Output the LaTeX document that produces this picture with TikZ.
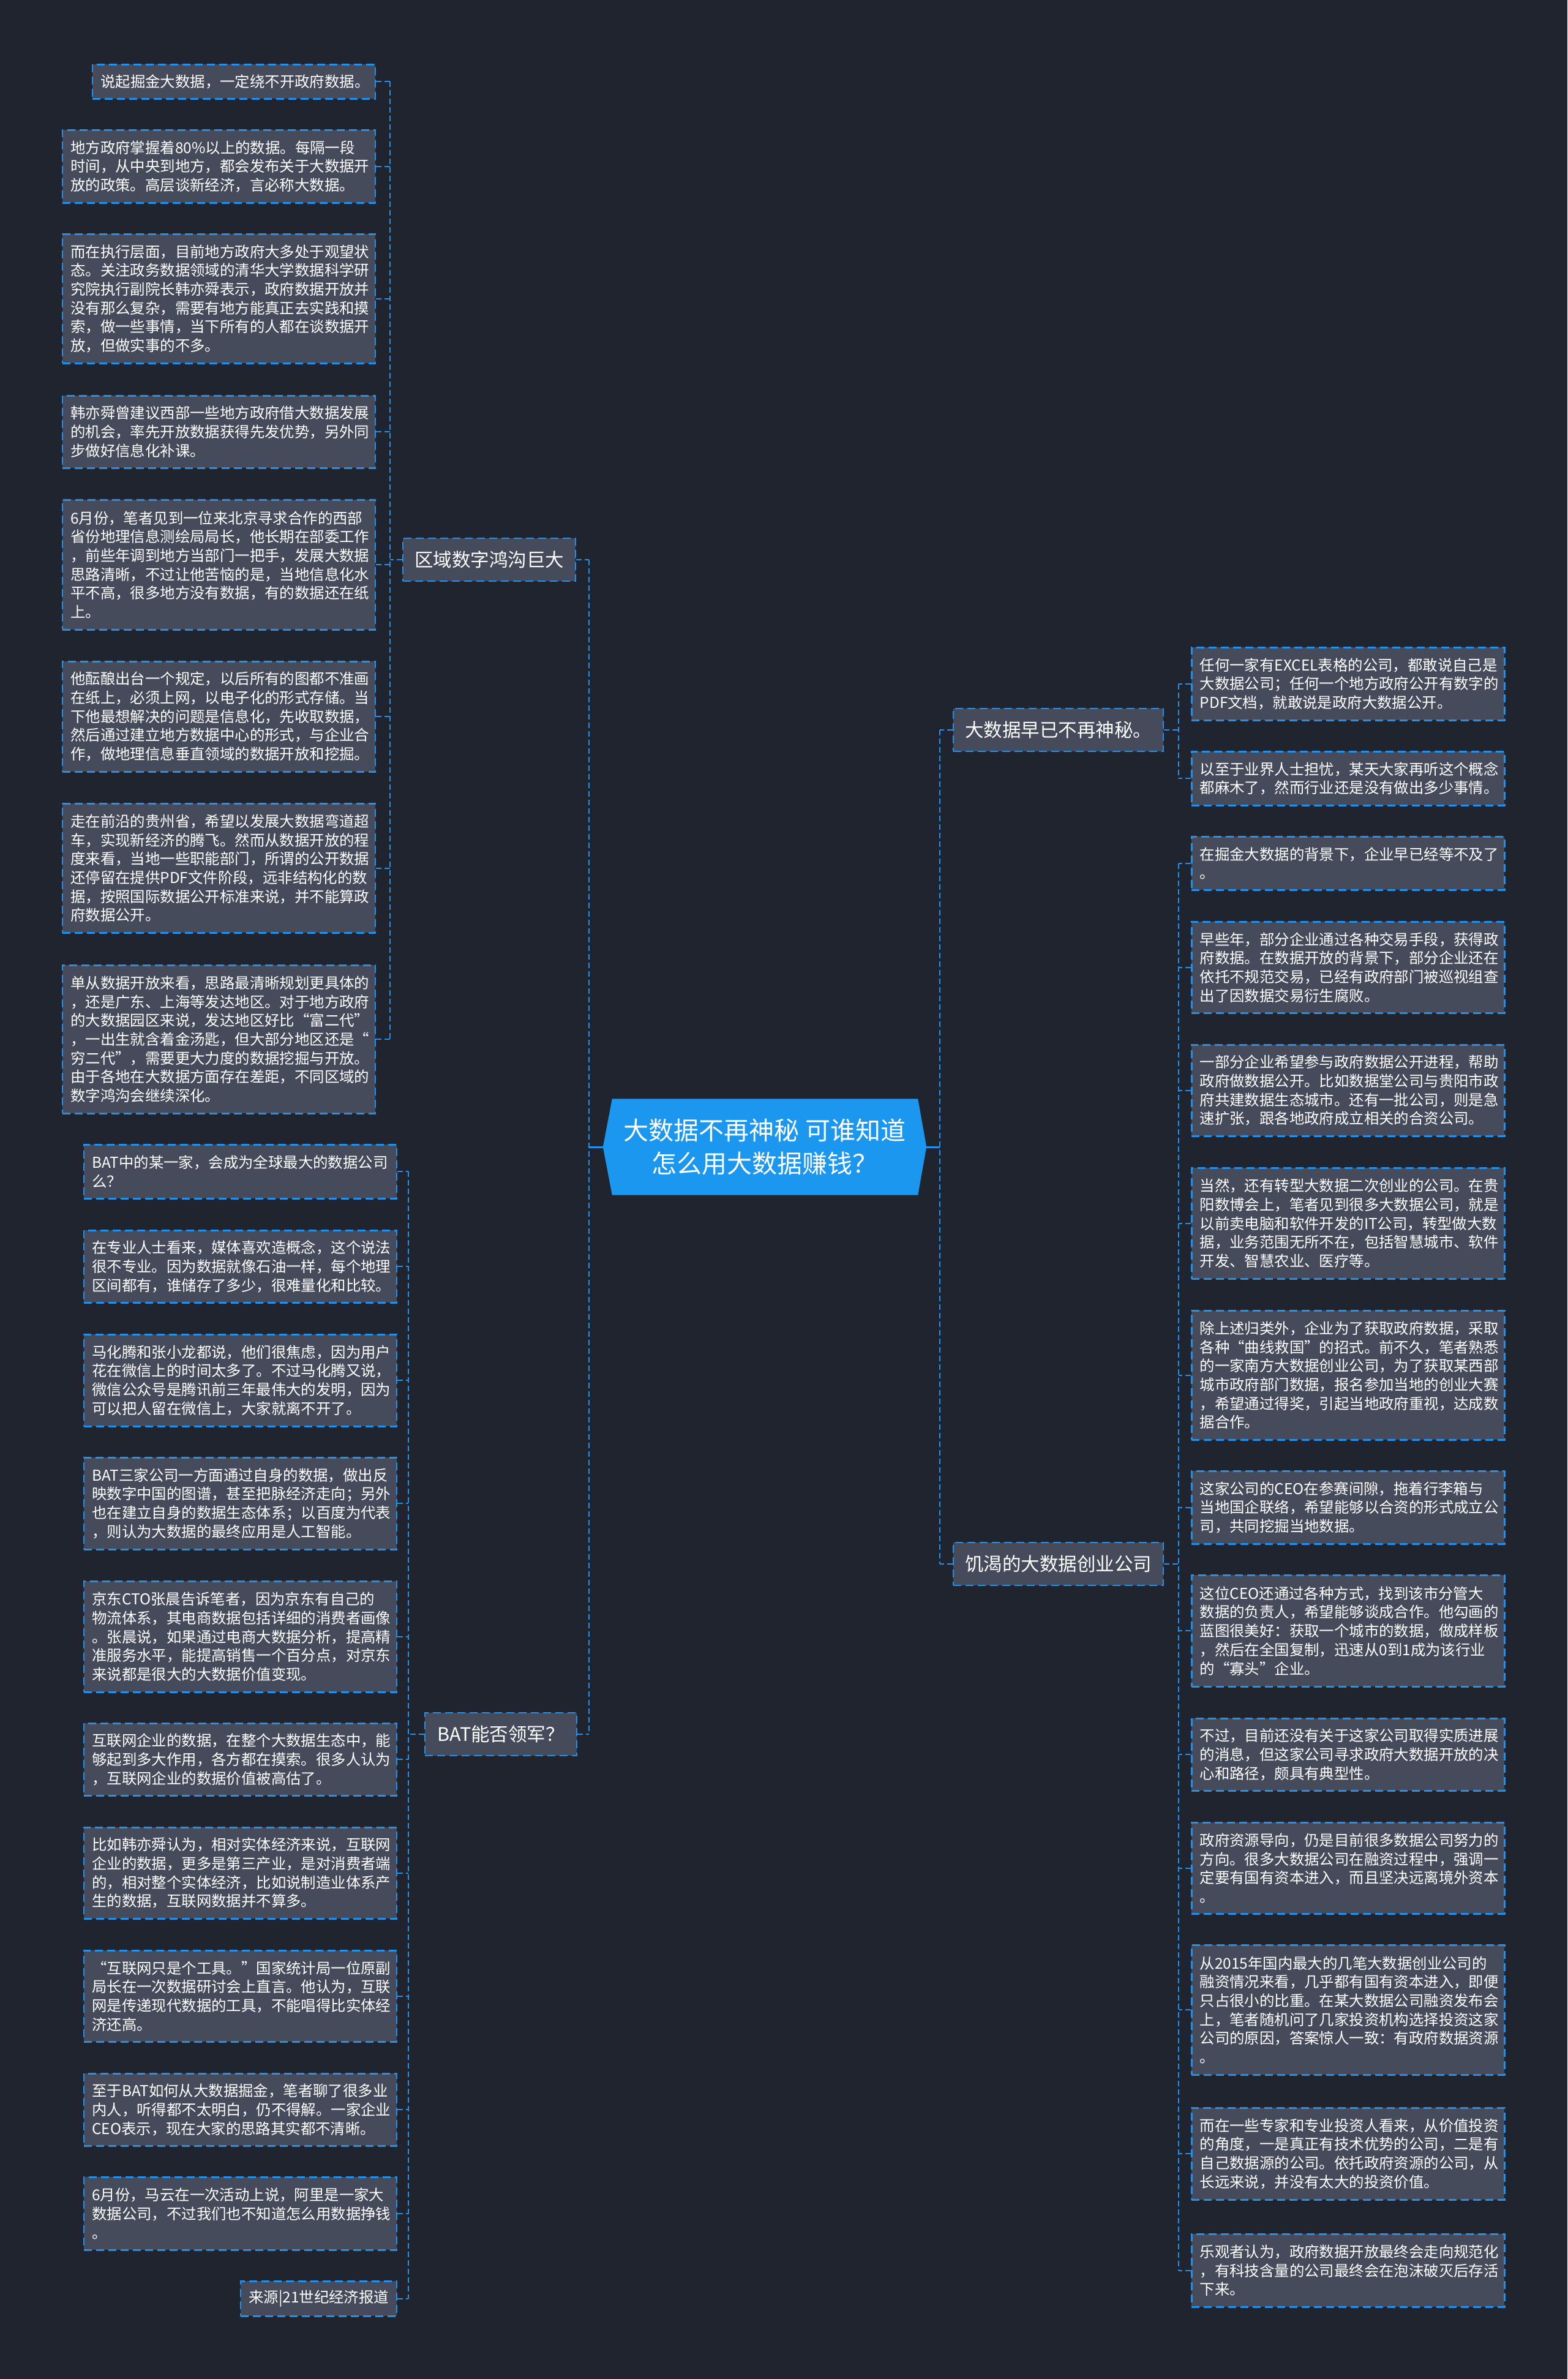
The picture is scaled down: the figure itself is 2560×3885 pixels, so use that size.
\documentclass[tikz,border=0pt]{standalone}
\usepackage{fontspec}
\setmainfont{Noto Sans CJK SC}
\usetikzlibrary{backgrounds}
\definecolor{bgc}{HTML}{20242F}
\definecolor{boxc}{HTML}{454B5A}
\definecolor{linec}{HTML}{2191EB}
\definecolor{rootc}{HTML}{1B97F0}
\newcommand{\lffont}{\fontsize{24.4pt}{30.7pt}\selectfont}
\newcommand{\brfont}{\fontsize{30.5pt}{36pt}\selectfont}
\newcommand{\rtfont}{\fontsize{41pt}{54pt}\selectfont}
\tikzset{
 leaf/.style={draw=linec, line width=2.5pt, dash pattern=on 13pt off 7pt, fill=boxc, text=white, font=\lffont, align=left, text width=484pt, inner xsep=13.5pt, inner ysep=0pt},
 lleaf/.style={leaf, anchor=north east},
 rleaf/.style={leaf, anchor=north west},
 branch/.style={draw=linec, line width=2.5pt, dash pattern=on 13pt off 7pt, fill=boxc, text=white, font=\brfont, align=center, minimum height=70pt, inner sep=0pt},
 rootnode/.style={text=white, font=\rtfont, align=center, minimum width=528pt, minimum height=157pt, inner sep=0pt},
 conn/.style={draw=linec, line width=2pt, dash pattern=on 9pt off 5pt},
 rootlink/.style={draw=linec, line width=3pt},
}
\begin{document}
\begin{tikzpicture}[x=1pt, y=-1pt]
\useasboundingbox (0,0) rectangle (2560,3885);

% root
\node[rootnode] (root) at (1249,1873) {大数据不再神秘 可谁知道\\怎么用大数据赚钱？};

% branches
\node[branch, minimum width=282pt] (bA) at (799,914) {区域数字鸿沟巨大};
\node[branch, minimum width=248pt] (bB) at (818,2832) {BAT能否领军？};
\node[branch, minimum width=343pt] (bC) at (1728.5,1192) {大数据早已不再神秘。};
\node[branch, minimum width=343pt] (bD) at (1728.5,2554) {饥渴的大数据创业公司};

% left top leaves
\node[lleaf, minimum height=56pt, text width=435pt] (L1) at (614,104) {说起掘金大数据，一定绕不开政府数据。};
\node[lleaf, minimum height=119pt] (L2) at (614,211) {地方政府掌握着80\%以上的数据。每隔一段\\时间，从中央到地方，都会发布关于大数据开\\放的政策。高层谈新经济，言必称大数据。};
\node[lleaf, minimum height=211pt] (L3) at (614,381) {而在执行层面，目前地方政府大多处于观望状\\态。关注政务数据领域的清华大学数据科学研\\究院执行副院长韩亦舜表示，政府数据开放并\\没有那么复杂，需要有地方能真正去实践和摸\\索，做一些事情，当下所有的人都在谈数据开\\放，但做实事的不多。};
\node[lleaf, minimum height=118pt] (L4) at (614,645) {韩亦舜曾建议西部一些地方政府借大数据发展\\的机会，率先开放数据获得先发优势，另外同\\步做好信息化补课。};
\node[lleaf, minimum height=212pt] (L5) at (614,815) {6月份，笔者见到一位来北京寻求合作的西部\\省份地理信息测绘局局长，他长期在部委工作\\，前些年调到地方当部门一把手，发展大数据\\思路清晰，不过让他苦恼的是，当地信息化水\\平不高，很多地方没有数据，有的数据还在纸\\上。};
\node[lleaf, minimum height=180pt] (L6) at (614,1079) {他酝酿出台一个规定，以后所有的图都不准画\\在纸上，必须上网，以电子化的形式存储。当\\下他最想解决的问题是信息化，先收取数据，\\然后通过建立地方数据中心的形式，与企业合\\作，做地理信息垂直领域的数据开放和挖掘。};
\node[lleaf, minimum height=211pt] (L7) at (614,1311) {走在前沿的贵州省，希望以发展大数据弯道超\\车，实现新经济的腾飞。然而从数据开放的程\\度来看，当地一些职能部门，所谓的公开数据\\还停留在提供PDF文件阶段，远非结构化的数\\据，按照国际数据公开标准来说，并不能算政\\府数据公开。};
\node[lleaf, minimum height=242pt] (L8) at (614,1575) {单从数据开放来看，思路最清晰规划更具体的\\，还是广东、上海等发达地区。对于地方政府\\的大数据园区来说，发达地区好比“富二代”\\，一出生就含着金汤匙，但大部分地区还是“\\穷二代”，需要更大力度的数据挖掘与开放。\\由于各地在大数据方面存在差距，不同区域的\\数字鸿沟会继续深化。};

% left bottom leaves
\node[lleaf, minimum height=88pt] (B1) at (649,1868) {BAT中的某一家，会成为全球最大的数据公司\\么？};
\node[lleaf, minimum height=118pt] (B2) at (649,2008) {在专业人士看来，媒体喜欢造概念，这个说法\\很不专业。因为数据就像石油一样，每个地理\\区间都有，谁储存了多少，很难量化和比较。};
\node[lleaf, minimum height=150pt] (B3) at (649,2178) {马化腾和张小龙都说，他们很焦虑，因为用户\\花在微信上的时间太多了。不过马化腾又说，\\微信公众号是腾讯前三年最伟大的发明，因为\\可以把人留在微信上，大家就离不开了。};
\node[lleaf, minimum height=150pt] (B4) at (649,2379) {BAT三家公司一方面通过自身的数据，做出反\\映数字中国的图谱，甚至把脉经济走向；另外\\也在建立自身的数据生态体系；以百度为代表\\，则认为大数据的最终应用是人工智能。};
\node[lleaf, minimum height=181pt] (B5) at (649,2581) {京东CTO张晨告诉笔者，因为京东有自己的\\物流体系，其电商数据包括详细的消费者画像\\。张晨说，如果通过电商大数据分析，提高精\\准服务水平，能提高销售一个百分点，对京东\\来说都是很大的大数据价值变现。};
\node[lleaf, minimum height=118pt] (B6) at (649,2813) {互联网企业的数据，在整个大数据生态中，能\\够起到多大作用，各方都在摸索。很多人认为\\，互联网企业的数据价值被高估了。};
\node[lleaf, minimum height=149pt] (B7) at (649,2983) {比如韩亦舜认为，相对实体经济来说，互联网\\企业的数据，更多是第三产业，是对消费者端\\的，相对整个实体经济，比如说制造业体系产\\生的数据，互联网数据并不算多。};
\node[lleaf, minimum height=149pt] (B8) at (649,3184) {“互联网只是个工具。”国家统计局一位原副\\局长在一次数据研讨会上直言。他认为，互联\\网是传递现代数据的工具，不能唱得比实体经\\济还高。};
\node[lleaf, minimum height=118pt] (B9) at (649,3385) {至于BAT如何从大数据掘金，笔者聊了很多业\\内人，听得都不太明白，仍不得解。一家企业\\CEO表示，现在大家的思路其实都不清晰。};
\node[lleaf, minimum height=119pt] (B10) at (649,3554) {6月份，马云在一次活动上说，阿里是一家大\\数据公司，不过我们也不知道怎么用数据挣钱\\。};
\node[lleaf, minimum height=57pt, text width=228pt] (B11) at (649,3724) {来源|21世纪经济报道};

% right leaves
\node[rleaf, minimum height=119pt] (R1) at (1945,1056) {任何一家有EXCEL表格的公司，都敢说自己是\\大数据公司；任何一个地方政府公开有数字的\\PDF文档，就敢说是政府大数据公开。};
\node[rleaf, minimum height=88pt] (R2) at (1945,1226) {以至于业界人士担忧，某天大家再听这个概念\\都麻木了，然而行业还是没有做出多少事情。};
\node[rleaf, minimum height=87pt] (R3) at (1945,1365) {在掘金大数据的背景下，企业早已经等不及了\\。};
\node[rleaf, minimum height=149pt] (R4) at (1945,1504) {早些年，部分企业通过各种交易手段，获得政\\府数据。在数据开放的背景下，部分企业还在\\依托不规范交易，已经有政府部门被巡视组查\\出了因数据交易衍生腐败。};
\node[rleaf, minimum height=149pt] (R5) at (1945,1705) {一部分企业希望参与政府数据公开进程，帮助\\政府做数据公开。比如数据堂公司与贵阳市政\\府共建数据生态城市。还有一批公司，则是急\\速扩张，跟各地政府成立相关的合资公司。};
\node[rleaf, minimum height=181pt] (R6) at (1945,1906) {当然，还有转型大数据二次创业的公司。在贵\\阳数博会上，笔者见到很多大数据公司，就是\\以前卖电脑和软件开发的IT公司，转型做大数\\据，业务范围无所不在，包括智慧城市、软件\\开发、智慧农业、医疗等。};
\node[rleaf, minimum height=211pt] (R7) at (1945,2139) {除上述归类外，企业为了获取政府数据，采取\\各种“曲线救国”的招式。前不久，笔者熟悉\\的一家南方大数据创业公司，为了获取某西部\\城市政府部门数据，报名参加当地的创业大赛\\，希望通过得奖，引起当地政府重视，达成数\\据合作。};
\node[rleaf, minimum height=119pt] (R8) at (1945,2401) {这家公司的CEO在参赛间隙，拖着行李箱与\\当地国企联络，希望能够以合资的形式成立公\\司，共同挖掘当地数据。};
\node[rleaf, minimum height=182pt] (R9) at (1945,2571) {这位CEO还通过各种方式，找到该市分管大\\数据的负责人，希望能够谈成合作。他勾画的\\蓝图很美好：获取一个城市的数据，做成样板\\，然后在全国复制，迅速从0到1成为该行业\\的“寡头”企业。};
\node[rleaf, minimum height=118pt] (R10) at (1945,2805) {不过，目前还没有关于这家公司取得实质进展\\的消息，但这家公司寻求政府大数据开放的决\\心和路径，颇具有典型性。};
\node[rleaf, minimum height=149pt] (R11) at (1945,2975) {政府资源导向，仍是目前很多数据公司努力的\\方向。很多大数据公司在融资过程中，强调一\\定要有国有资本进入，而且坚决远离境外资本\\。};
\node[rleaf, minimum height=212pt] (R12) at (1945,3175) {从2015年国内最大的几笔大数据创业公司的\\融资情况来看，几乎都有国有资本进入，即便\\只占很小的比重。在某大数据公司融资发布会\\上，笔者随机问了几家投资机构选择投资这家\\公司的原因，答案惊人一致：有政府数据资源\\。};
\node[rleaf, minimum height=150pt] (R13) at (1945,3441) {而在一些专家和专业投资人看来，从价值投资\\的角度，一是真正有技术优势的公司，二是有\\自己数据源的公司。依托政府资源的公司，从\\长远来说，并没有太大的投资价值。};
\node[rleaf, minimum height=119pt] (R14) at (1945,3647) {乐观者认为，政府数据开放最终会走向规范化\\，有科技含量的公司最终会在泡沫破灭后存活\\下来。};

% background and root hexagon
\begin{scope}[on background layer]
\fill[bgc] (0,0) rectangle (2560,3885);
\fill[rootc] (root.west) -- ([xshift=15pt]root.north west) -- ([xshift=-14pt]root.north east) -- (root.east) -- ([xshift=-14pt]root.south east) -- ([xshift=15pt]root.south west) -- cycle;
\end{scope}

% trunk coordinates
\coordinate (tL) at (962,0);
\coordinate (tR) at (1535,0);
\coordinate (vA) at (637,0);
\coordinate (vB) at (667,0);
\coordinate (vC) at (1925,0);

% root links
\draw[rootlink] (root.west) -- (root.west -| tL);
\draw[rootlink] (root.east) -- (root.east -| tR);
\draw[conn] (bA.east -| tL) -- (bB.east -| tL);
\draw[conn] (bA.east) -- (bA.east -| tL);
\draw[conn] (bB.east) -- (bB.east -| tL);
\draw[conn] (bC.west -| tR) -- (bD.west -| tR);
\draw[conn] (bC.west) -- (bC.west -| tR);
\draw[conn] (bD.west) -- (bD.west -| tR);

% group A
\draw[conn] (L1.east -| vA) -- (L8.east -| vA);
\draw[conn] (bA.west) -- (bA.west -| vA);
\foreach \n in {1,...,8} {\draw[conn] (L\n.east) -- (L\n.east -| vA);}

% group B
\draw[conn] (B1.east -| vB) -- (B11.east -| vB);
\draw[conn] (bB.west) -- (bB.west -| vB);
\foreach \n in {1,...,11} {\draw[conn] (B\n.east) -- (B\n.east -| vB);}

% group C
\draw[conn] (R1.west -| vC) -- (R2.west -| vC);
\draw[conn] (bC.east) -- (bC.east -| vC);
\foreach \n in {1,2} {\draw[conn] (R\n.west) -- (R\n.west -| vC);}

% group D
\draw[conn] (R3.west -| vC) -- (R14.west -| vC);
\draw[conn] (bD.east) -- (bD.east -| vC);
\foreach \n in {3,...,14} {\draw[conn] (R\n.west) -- (R\n.west -| vC);}
\end{tikzpicture}
\end{document}
